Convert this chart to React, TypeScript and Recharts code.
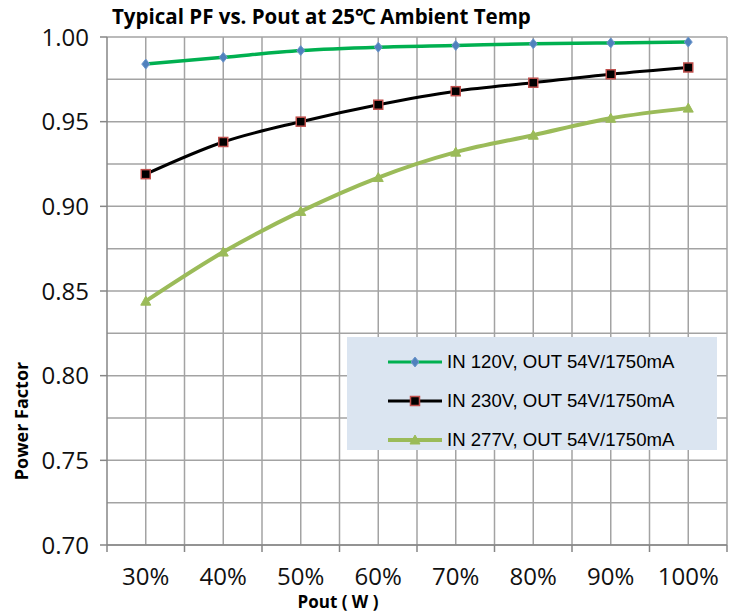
import { LineChart, Line, XAxis, YAxis, CartesianGrid, Legend } from 'recharts';

const loads = ['30%', '40%', '50%', '60%', '70%', '80%', '90%', '100%'];
const pf120 = [0.984, 0.988, 0.992, 0.994, 0.995, 0.996, 0.9965, 0.997];
const pf230 = [0.919, 0.938, 0.950, 0.960, 0.968, 0.973, 0.978, 0.982];
const pf277 = [0.844, 0.873, 0.897, 0.917, 0.932, 0.942, 0.952, 0.958];
const yTicks = [0.70, 0.725, 0.75, 0.775, 0.80, 0.825, 0.85, 0.875, 0.90, 0.925, 0.95, 0.975, 1.00];
const majorTicks = [0.70, 0.75, 0.80, 0.85, 0.90, 0.95, 1.00];
const seriesNames = [
  'IN 120V, OUT 54V/1750mA',
  'IN 230V, OUT 54V/1750mA',
  'IN 277V, OUT 54V/1750mA',
];

const data = loads.map((load, i) => ({
  load,
  v120: pf120[i],
  v230: pf230[i],
  v277: pf277[i],
}));

const W = 737;
const H = 612;
const AXIS_X = 107;
const AXIS_Y = 545;
const HALF_BAND = 620 / 16;
const gridColor = '#a3a3a3';
const axisColor = '#868686';
const tickFont = "'Open Sans', sans-serif";

const isMajor = (v: number) => majorTicks.some(m => Math.abs(m - v) < 1e-6);

function YTick(props: any) {
  const { y, payload } = props;
  if (!isMajor(payload.value)) return <g />;
  return (
    <g>
      <line x1={AXIS_X - 7} x2={AXIS_X} y1={y} y2={y} stroke={axisColor} strokeWidth={1.5} />
      <text x={89} y={y} dy="0.36em" textAnchor="end" fontSize={24} fontFamily={tickFont} fill="#111">
        {payload.value.toFixed(2)}
      </text>
    </g>
  );
}

function XTick(props: any) {
  const { x, payload, index } = props;
  return (
    <g>
      <line x1={x - HALF_BAND} x2={x - HALF_BAND} y1={AXIS_Y} y2={AXIS_Y + 7} stroke={axisColor} strokeWidth={1.5} />
      {index === loads.length - 1 && (
        <line x1={x + HALF_BAND} x2={x + HALF_BAND} y1={AXIS_Y} y2={AXIS_Y + 7} stroke={axisColor} strokeWidth={1.5} />
      )}
      <text x={x} y={585} textAnchor="middle" fontSize={24} fontFamily={tickFont} fill="#111">
        {payload.value}
      </text>
    </g>
  );
}

function Diamond({ cx, cy, size = 5 }: any) {
  return (
    <path
      d={`M${cx},${cy - size} L${cx + size * 0.8},${cy} L${cx},${cy + size} L${cx - size * 0.8},${cy} Z`}
      fill="#4f81bd"
      stroke="#6f97cc"
      strokeWidth={1}
    />
  );
}

function Square({ cx, cy }: any) {
  return <rect x={cx - 4.5} y={cy - 4.5} width={9} height={9} fill="#000" stroke="#c0504d" strokeWidth={1.5} />;
}

function Triangle({ cx, cy }: any) {
  return <path d={`M${cx},${cy - 5} L${cx + 5},${cy + 4} L${cx - 5},${cy + 4} Z`} fill="#9bbb59" stroke="#9bbb59" strokeWidth={1} />;
}

const legendItems = [
  { name: seriesNames[0], color: '#00b050', width: 3, Marker: Diamond },
  { name: seriesNames[1], color: '#000', width: 3, Marker: Square },
  { name: seriesNames[2], color: '#9bbb59', width: 4, Marker: Triangle },
];

function LegendBox() {
  return (
    <div style={{ background: '#dbe5f1', width: 370, height: 113, boxSizing: 'border-box', paddingTop: 5 }}>
      {legendItems.map(item => (
        <div key={item.name} style={{ display: 'flex', alignItems: 'center', height: 39 }}>
          <svg width={100} height={20} style={{ flexShrink: 0 }}>
            <line x1={41} x2={95} y1={10} y2={10} stroke={item.color} strokeWidth={item.width} />
            <item.Marker cx={68} cy={10} />
          </svg>
          <span style={{ fontFamily: "'Liberation Sans', sans-serif", fontSize: 18.6, color: '#000' }}>{item.name}</span>
        </div>
      ))}
    </div>
  );
}

export default function App() {
  return (
    <div style={{ position: 'absolute', left: 0, top: 0, width: W, height: H, background: '#fff' }}>
      <div
        style={{
          position: 'absolute', left: 112, top: 2, fontSize: 20.5, fontWeight: 700,
          fontFamily: "'Open Sans', sans-serif", color: '#000', whiteSpace: 'nowrap',
        }}
      >
        Typical PF vs. Pout at 25℃  Ambient Temp
      </div>
      <LineChart width={W} height={H} data={data} margin={{ top: 37, right: 10, bottom: 0, left: 0 }}>
        <CartesianGrid
          stroke={gridColor}
          strokeWidth={1.5}
          verticalCoordinatesGenerator={({ offset }: any) =>
            Array.from({ length: 16 }, (_, k) => offset.left + ((k + 1) * offset.width) / 16)
          }
        />
        <XAxis
          dataKey="load"
          height={67}
          padding={{ left: HALF_BAND, right: HALF_BAND }}
          axisLine={{ stroke: axisColor, strokeWidth: 1.5 }}
          tickLine={false}
          tick={<XTick />}
          interval={0}
        />
        <YAxis
          width={107}
          domain={[0.7, 1.0]}
          ticks={yTicks}
          interval={0}
          axisLine={{ stroke: axisColor, strokeWidth: 1.5 }}
          tickLine={false}
          tick={<YTick />}
        />
        <Legend
          layout="vertical"
          align="center"
          verticalAlign="middle"
          wrapperStyle={{ left: 347, top: 337, width: 370, height: 113 }}
          content={() => <LegendBox />}
        />
        <Line
          type="monotone"
          dataKey="v120"
          name={seriesNames[0]}
          stroke="#00b050"
          strokeWidth={3.5}
          dot={(p: any) => <Diamond key={p.index} cx={p.cx} cy={p.cy} />}
          activeDot={false}
          isAnimationActive={false}
        />
        <Line
          type="monotone"
          dataKey="v230"
          name={seriesNames[1]}
          stroke="#000"
          strokeWidth={3}
          dot={(p: any) => <Square key={p.index} cx={p.cx} cy={p.cy} />}
          activeDot={false}
          isAnimationActive={false}
        />
        <Line
          type="monotone"
          dataKey="v277"
          name={seriesNames[2]}
          stroke="#9bbb59"
          strokeWidth={4}
          dot={(p: any) => <Triangle key={p.index} cx={p.cx} cy={p.cy} />}
          activeDot={false}
          isAnimationActive={false}
        />
      </LineChart>
      <div
        style={{
          position: 'absolute', left: 338, top: 593, transform: 'translateX(-50%)', fontSize: 17, lineHeight: 1,
          fontWeight: 700, fontFamily: "'Open Sans', sans-serif", color: '#000', whiteSpace: 'nowrap',
        }}
      >
        Pout ( W )
      </div>
      <div
        style={{
          position: 'absolute', left: 21, top: 421, transform: 'translate(-50%, -50%) rotate(-90deg)', fontSize: 18,
          fontWeight: 700, fontFamily: "'Open Sans', sans-serif", color: '#000', whiteSpace: 'nowrap',
        }}
      >
        Power Factor
      </div>
    </div>
  );
}
